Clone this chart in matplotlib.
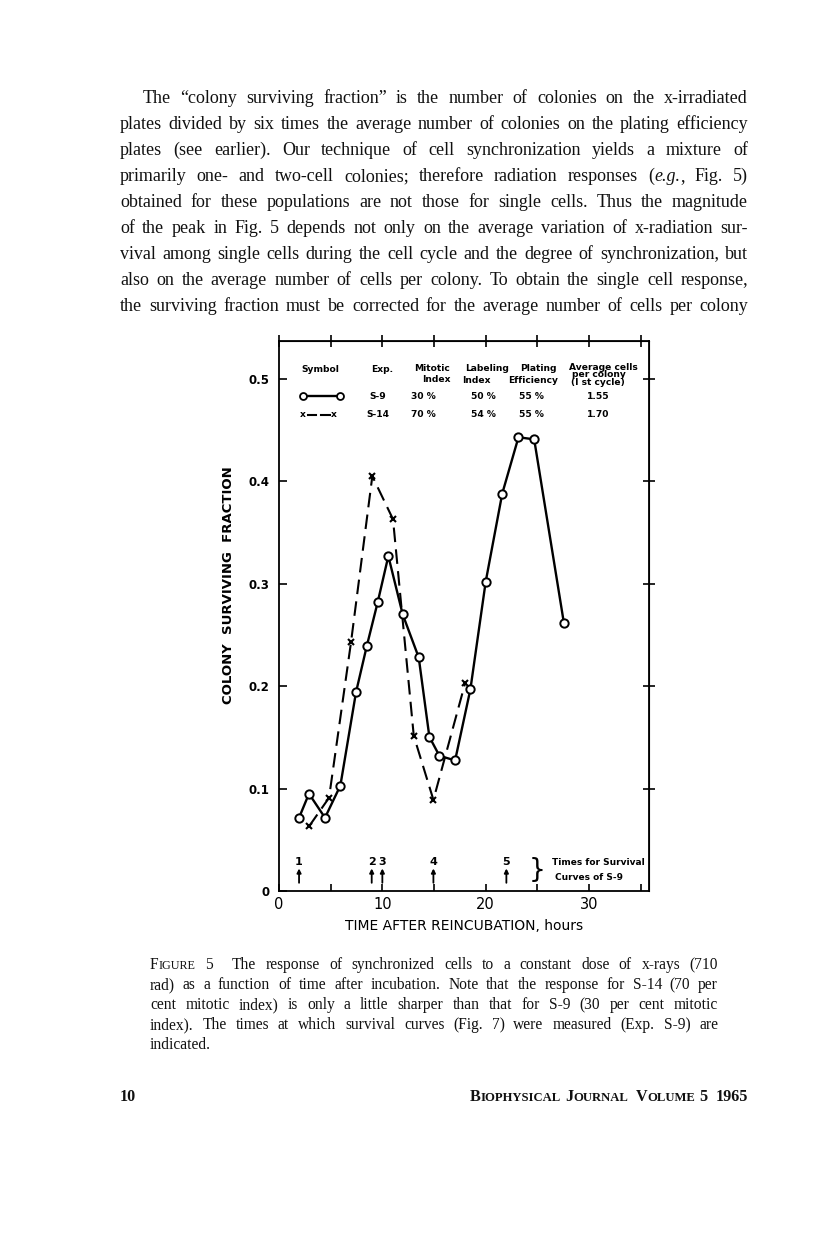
import matplotlib
matplotlib.use('Agg')
import matplotlib.pyplot as plt
from matplotlib.lines import Line2D

W, H = 816, 1234

# ---------------- data ----------------
s9_time = [1.94, 2.9, 4.45, 5.94, 7.45, 8.49, 9.55, 10.58, 11.97, 13.52, 14.55,
           15.52, 17.04, 18.52, 20.0, 21.6, 23.17, 24.69, 27.56]
s9_frac = [0.0715, 0.095, 0.0715, 0.103, 0.194, 0.239, 0.282, 0.327, 0.270, 0.228,
           0.1505, 0.132, 0.1275, 0.197, 0.302, 0.388, 0.443, 0.441, 0.262]
s14_time = [2.9, 4.84, 6.97, 9.03, 11.03, 13.04, 14.94, 18.0]
s14_frac = [0.063, 0.091, 0.243, 0.405, 0.363, 0.1515, 0.089, 0.2026]

arrow_times = [1.94, 8.97, 10.0, 14.94, 22.0]
arrow_labels = ['1', '2', '3', '4', '5']

x_ticks = [0, 10, 20, 30]
x_minor = [5, 15, 25, 35]
y_ticks = [0, 0.1, 0.2, 0.3, 0.4, 0.5]
y_ticklabels = ['0', '0.1', '0.2', '0.3', '0.4', '0.5']

legend_exp = ['S-9', 'S-14']
legend_mitotic = ['30 %', '70 %']
legend_labeling = ['50 %', '54 %']
legend_plating = ['55 %', '55 %']
legend_cells = ['1.55', '1.70']

body_lines = [
    "The \u201ccolony surviving fraction\u201d is the number of colonies on the x-irradiated",
    "plates divided by six times the average number of colonies on the plating efficiency",
    "plates (see earlier). Our technique of cell synchronization yields a mixture of",
    "primarily one- and two-cell colonies; therefore radiation responses (_e.g._, Fig. 5)",
    "obtained for these populations are not those for single cells. Thus the magnitude",
    "of the peak in Fig. 5 depends not only on the average variation of x-radiation sur-",
    "vival among single cells during the cell cycle and the degree of synchronization, but",
    "also on the average number of cells per colony. To obtain the single cell response,",
    "the surviving fraction must be corrected for the average number of cells per colony",
]
caption_lines = [
    "F{IGURE} 5  The response of synchronized cells to a constant dose of x-rays (710",
    "rad) as a function of time after incubation. Note that the response for S-14 (70 per",
    "cent mitotic index) is only a little sharper than that for S-9 (30 per cent mitotic",
    "index). The times at which survival curves (Fig. 7) were measured (Exp. S-9) are",
    "indicated.",
]

# ---------------- figure ----------------
fig = plt.figure(figsize=(W / 100, H / 100), dpi=100)
fig.patch.set_facecolor('white')
renderer = fig.canvas.get_renderer()
SERIF = 'Liberation Serif'


def parse_word(word):
    runs = []
    italic = False
    small = False
    buf = ''
    for ch in word:
        if ch in '_{}':
            if buf:
                runs.append((buf, italic, small))
            buf = ''
            if ch == '_':
                italic = not italic
            elif ch == '{':
                small = True
            else:
                small = False
        else:
            buf += ch
    if buf:
        runs.append((buf, italic, small))
    return runs


def run_kw(italic, small, size, weight):
    return dict(family=SERIF, style='italic' if italic else 'normal',
                size=size * (0.78 if small else 1.0), weight=weight)


def measure(s, **kw):
    t = fig.text(0, 0, s, **kw)
    w = t.get_window_extent(renderer).width
    t.remove()
    return w


def draw_line(line, x0, x1, y, size, justify=True, weight='normal', gap=None, right=False):
    words = [parse_word(w) for w in line.split(' ')]
    widths = [sum(measure(r, **run_kw(i, s, size, weight)) for r, i, s in w) for w in words]
    space = measure('a a', family=SERIF, size=size) - measure('aa', family=SERIF, size=size)
    if gap is None:
        gap = space
    if justify and len(words) > 1:
        gap = (x1 - x0 - sum(widths)) / (len(words) - 1)
    total = sum(widths) + gap * (len(words) - 1)
    x = x1 - total if right else x0
    for w, wd in zip(words, widths):
        for r, i, s in w:
            kw = run_kw(i, s, size, weight)
            fig.text(x / W, 1 - y / H, r, va='baseline', ha='left', color='#111111', **kw)
            x += measure(r, **kw)
        x += gap


# body text
body_y0 = 103
for k, line in enumerate(body_lines):
    x0 = 143 if k == 0 else 120
    draw_line(line, x0, 748, body_y0 + 26 * k, 13.0)

# caption
for k, line in enumerate(caption_lines):
    just = k < len(caption_lines) - 1
    draw_line(line, 150, 718, 969 + 20 * k, 11.2, justify=just)

# footer
draw_line("10", 120, 200, 1101, 11.6, justify=False, weight='bold')
draw_line("B{IOPHYSICAL} J{OURNAL}  V{OLUME} 5  1965", 400, 748, 1101, 11.6,
          justify=False, weight='bold', right=True)

# ---------------- chart ----------------
ax = fig.add_axes([279 / W, 1 - 891 / H, 370 / W, 550 / H])
ax.set_xlim(0, 35.8)
ax.set_ylim(0, 0.537)
for sp in ax.spines.values():
    sp.set_linewidth(1.3)

ax.plot(s14_time, s14_frac, color='black', lw=1.5, ls=(0, (7, 3.5)),
        marker='x', ms=5, mew=1.5, zorder=2)
ax.plot(s9_time, s9_frac, color='black', lw=1.7, ls='-',
        marker='o', ms=6, mfc='white', mec='black', mew=1.4, zorder=3)

tickfont = dict(family='DejaVu Sans', weight='bold')
ax.set_xticks(x_ticks)
ax.set_xticklabels([str(v) for v in x_ticks], fontsize=10.5, family='DejaVu Sans')
ax.set_xticks(x_minor, minor=True)
ax.set_yticks(y_ticks)
ax.set_yticklabels(y_ticklabels, fontsize=8.5, **tickfont)
ax.tick_params(axis='x', which='both', direction='in', length=5, width=1.2, pad=4, top=False)
ax.tick_params(axis='y', which='both', direction='in', length=6, width=1.2, pad=7, right=False)

sx = ax.secondary_xaxis('top')
sx.set_xticks(x_ticks + x_minor)
sx.set_xticklabels([])
sx.tick_params(direction='inout', length=8, width=1.2)
sy = ax.secondary_yaxis('right')
sy.set_yticks(y_ticks[1:])
sy.set_yticklabels([])
sy.tick_params(direction='inout', length=9, width=1.2)

ax.set_xlabel('TIME AFTER REINCUBATION, hours', fontsize=10, family='DejaVu Sans',
              labelpad=5)
ax.set_ylabel('COLONY  SURVIVING  FRACTION', fontsize=9.5, family='DejaVu Sans',
              weight='bold')
ax.yaxis.set_label_coords(-0.12, 0.556)

# survival-curve time arrows
for t, lab in zip(arrow_times, arrow_labels):
    ax.annotate('', xy=(t, 0.022), xytext=(t, 0.008),
                arrowprops=dict(arrowstyle='-|>', color='black', lw=1.3,
                                mutation_scale=6, shrinkA=0, shrinkB=0))
    ax.text(t, 0.0285, lab, ha='center', va='center', fontsize=8, **tickfont)
ax.text(25.0, 0.0205, '}', ha='center', va='center', fontsize=19,
        family='DejaVu Sans')
ax.text(26.4, 0.0275, 'Times for Survival', ha='left', va='center', fontsize=6.5, **tickfont)
ax.text(26.7, 0.0135, 'Curves of S-9', ha='left', va='center', fontsize=6.5, **tickfont)

# legend table
lf = dict(fontsize=6.6, ha='center', va='center', **tickfont)
ax.text(3.97, 0.509, 'Symbol', **lf)
ax.text(9.94, 0.509, 'Exp.', **lf)
ax.text(14.84, 0.510, 'Mitotic', **lf)
ax.text(15.26, 0.4995, 'Index', **lf)
ax.text(20.1, 0.510, 'Labeling', **lf)
ax.text(19.1, 0.4985, 'Index', **lf)
ax.text(25.1, 0.510, 'Plating', **lf)
ax.text(24.6, 0.4985, 'Efficiency', **lf)
ax.text(31.4, 0.511, 'Average cells', **lf)
ax.text(31.0, 0.504, 'per colony', **lf)
ax.text(30.9, 0.4966, '(I st cycle)', **lf)
row_y = [0.4832, 0.465]
for k in range(2):
    ax.text(9.6, row_y[k], legend_exp[k], **lf)
    ax.text(14.0, row_y[k], legend_mitotic[k], **lf)
    ax.text(19.75, row_y[k], legend_labeling[k], **lf)
    ax.text(24.46, row_y[k], legend_plating[k], **lf)
    ax.text(30.9, row_y[k], legend_cells[k], **lf)
ax.add_line(Line2D([2.35, 5.9], [row_y[0], row_y[0]], color='black', lw=1.7,
                   marker='o', ms=5, mfc='white', mec='black', mew=1.3))
ax.text(2.35, row_y[1], 'x', **lf)
ax.text(5.3, row_y[1], 'x', **lf)
ax.add_line(Line2D([2.8, 3.6], [row_y[1], row_y[1]], color='black', lw=1.5))
ax.add_line(Line2D([4.1, 4.9], [row_y[1], row_y[1]], color='black', lw=1.5))

fig.savefig('out.png', dpi=100, facecolor='white')
